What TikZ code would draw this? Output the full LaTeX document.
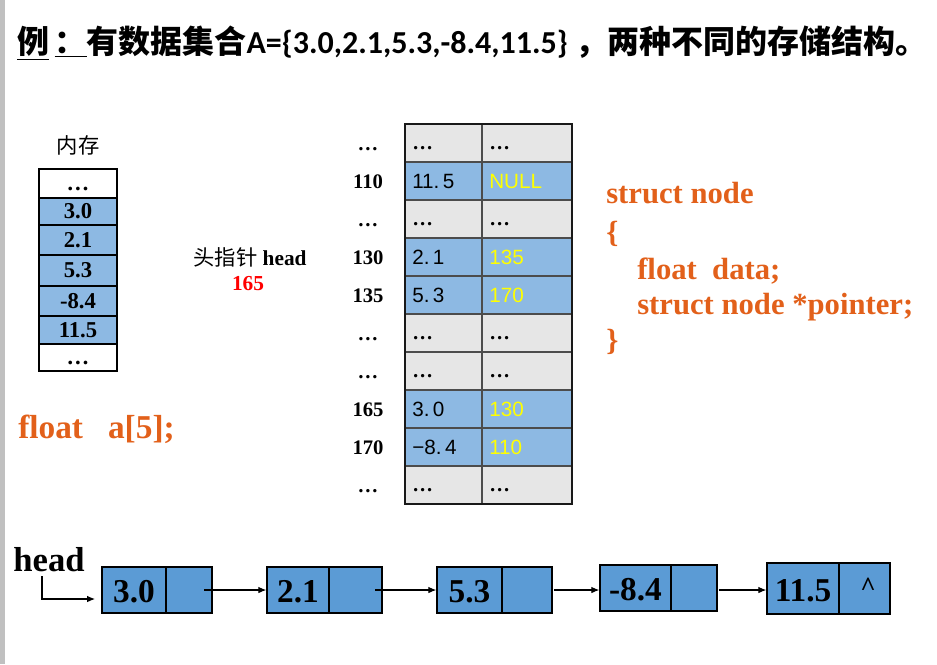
\documentclass[tikz,border=0pt]{standalone}
\usepackage{fontspec}
\setmainfont{Liberation Serif}
\newfontfamily\cjk{Noto Sans CJK SC}
\newfontfamily\carl{Carlito}
\newfontfamily\lsans{Liberation Sans}
\usetikzlibrary{arrows.meta}
\definecolor{orng}{HTML}{E2601A}
\definecolor{memblue}{HTML}{8DB9E3}
\definecolor{listblue}{HTML}{5B9BD5}
\definecolor{cellgray}{HTML}{E6E6E6}
\definecolor{sidebar}{HTML}{C0C0C0}
\definecolor{nullyel}{HTML}{FFFF00}
\newcommand\dd{{\color{black}\rmfamily\bfseries\vphantom{0}…}}
\newcommand\ld{\vphantom{0}…}
\begin{document}
\begin{tikzpicture}[x=0.75pt,y=-0.75pt,
  txt/.style={inner sep=0pt},
  memtxt/.style={txt,font=\bfseries\fontsize{17}{19}\selectfont},
  lab/.style={txt,font=\bfseries\fontsize{15.5}{18}\selectfont},
  cellL/.style={txt,anchor=west,font=\lsans\fontsize{15.5}{17}\selectfont},
  cellR/.style={cellL,text=nullyel},
  code/.style={txt,anchor=west,text=orng,font=\bfseries\fontsize{23}{26}\selectfont},
  lbox/.style={draw=black,line width=1.1pt,fill=listblue,inner sep=0pt},
  lnum/.style={txt,font=\bfseries\fontsize{25}{28}\selectfont},
  arr/.style={line width=0.8pt,-{Latex[length=6pt,width=5pt]}},
  innerline/.style={line width=1.4pt,draw=black!70},
  outerline/.style={line width=2pt,draw=black!90}]
\useasboundingbox (0,0) rectangle (937,664);
\fill[sidebar] (0,0) rectangle (5,664);
% title
\node[txt,anchor=west] (title) at (17,43) {\cjk\bfseries\fontsize{24}{28}\selectfont \underline{例}\,\underline{：}有数据集合{\carl\bfseries A=\{3.0,2.1,5.3,-8.4,11.5\}} ，两种不同的存储结构。};
% memory column
\node[txt,font=\cjk\fontsize{16}{18}\selectfont] (memlbl) at (78,145) {内存};
\foreach \t/\b/\f/\v [count=\i] in {169/198/white/\ld,198/225/memblue/3.0,225/255/memblue/2.1,255/286/memblue/5.3,286/316/memblue/-8.4,316/344/memblue/11.5,344/371/white/\ld}{
  \draw[line width=0.9pt,fill=\f] (39,\t) rectangle (117,\b);
  \node[memtxt] (m\i) at (78,{(\t+\b)/2}) {\v};
}
\node[txt,font=\fontsize{16}{18}\selectfont] (headptr) at (250,257) {{\cjk 头指针} \textbf{head}};
\node[txt,text=red,font=\bfseries\fontsize{16}{18}\selectfont] (hval) at (248,284) {165};
\node[code,font=\bfseries\fontsize{25}{28}\selectfont] (farr) at (18,429) {float\ \ \ a[5];};
% table
\foreach \i/\f/\lab/\a/\b in {0/cellgray/\ld/\dd/\dd,1/memblue/110/11.\,5/NULL,2/cellgray/\ld/\dd/\dd,3/memblue/130/2.\,1/135,4/memblue/135/5.\,3/170,5/cellgray/\ld/\dd/\dd,6/cellgray/\ld/\dd/\dd,7/memblue/165/3.\,0/130,8/memblue/170/−8.\,4/110,9/cellgray/\ld/\dd/\dd}{
  \fill[\f] (405,{124+38*\i}) rectangle (572,{162+38*\i});
  \node[lab] (l\i) at (368,{144+38*\i}) {\lab};
  \node[cellL] (ca\i) at (412,{143+38*\i}) {\a};
  \node[cellR] (cb\i) at (489,{143+38*\i}) {\b};
}
\foreach \i in {1,...,9}{\draw[innerline] (405,{124+38*\i}) -- (572,{124+38*\i});}
\draw[innerline] (482,124) -- (482,504);
\draw[outerline] (405,124) rectangle (572,504);
% struct
\node[code] (s1) at (606,193) {struct node};
\node[code] (s2) at (606,234) {\{};
\node[code] (s3) at (637,271) {float\ \ data;};
\node[code] (s4) at (637,307) {struct node *pointer;};
\node[code] (s5) at (606,342) {\}};
% linked list
\node[txt,font=\bfseries\fontsize{26}{28}\selectfont] (head) at (49,560) {head};
\foreach \n/\xa/\xb/\ya/\yb/\xd/\v in {1/102/212/567/613/166/3.0,2/267/382/567/613/329/2.1,3/437/552/567/613/502/5.3,4/600/717/565/611/671/-8.4,5/767/890/563/614/839/11.5}{
  \node[lbox,minimum width={(\xb-\xa)*0.75pt},minimum height={(\yb-\ya)*0.75pt}] (b\n) at ({(\xa+\xb)/2},{(\ya+\yb)/2}) {};
  \draw[line width=1pt] (\xd,\ya) -- (\xd,\yb);
  \node[lnum] (d\n) at ({(\xa+\xd)/2},{(\ya+\yb)/2+2}) {\v};
}
\node[txt,font=\bfseries\fontsize{20}{22}\selectfont] (nil) at (868,587) {\^{}};
\coordinate (hs) at (42,576);
\coordinate (he) at (95,599);
\draw[arr] (hs) |- (he);
\coordinate (p1) at (204,590);
\coordinate (p2) at (375,590);
\coordinate (p3) at (554,590);
\coordinate (p4) at (719,590);
\draw[arr] (p1) -- (b2.west |- p1);
\draw[arr] (p2) -- (b3.west |- p2);
\draw[arr] (p3) -- (b4.west |- p3);
\draw[arr] (p4) -- (b5.west |- p4);
\end{tikzpicture}
\end{document}
